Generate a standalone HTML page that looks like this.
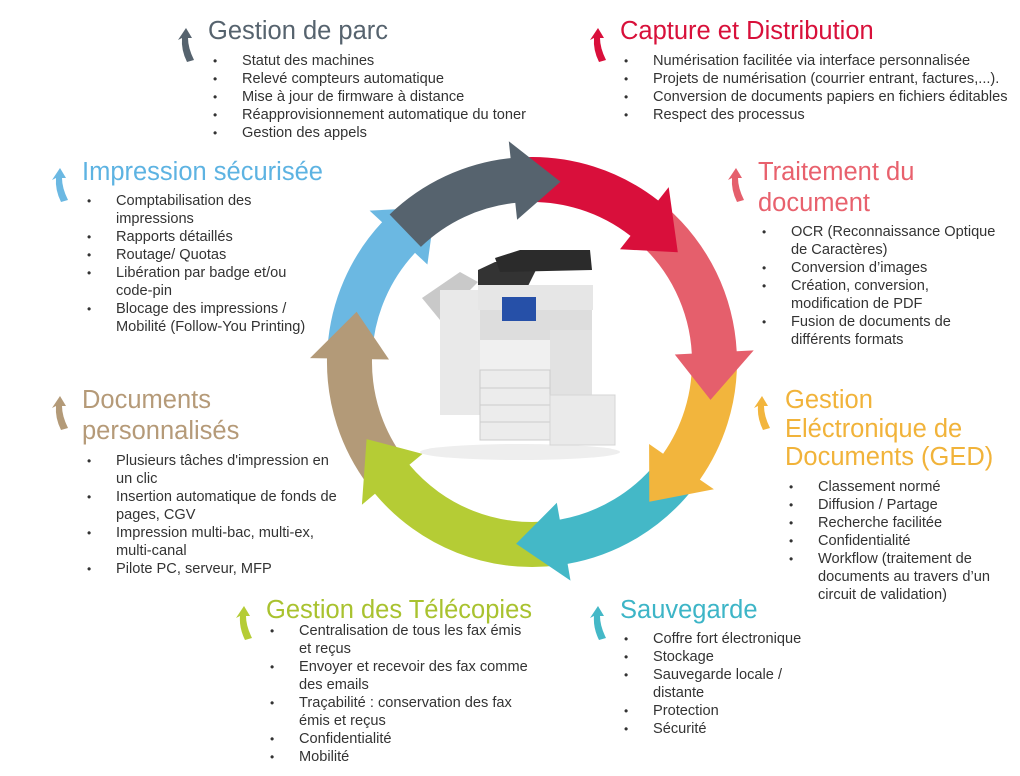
<!DOCTYPE html>
<html><head><meta charset="utf-8"><style>
body{margin:0;width:1020px;height:776px;background:#fff;position:relative;overflow:hidden;font-family:"Liberation Sans",Arial,sans-serif}
.b{position:absolute;white-space:nowrap}
.t{font-size:25.5px}
ul{list-style:none;margin:0;padding:0;font-size:14.6px;line-height:18px;color:#333}
li{position:relative}
li:before{content:"•";position:absolute;left:-29px;font-size:12px}
svg{position:absolute;left:0;top:0}
</style></head><body>
<svg width="1020" height="776" id="s">
<g id="ring"></g>
<g>
<ellipse cx="520" cy="452" rx="100" ry="8" fill="#eee"/>
<polygon points="422,298 460,272 478,282 440,320" fill="#c9c9c9"/>
<rect x="440" y="290" width="52" height="125" fill="#e9e9e9"/>
<polygon points="478,270 495,262 540,262 525,292 478,292" fill="#333"/>
<rect x="478" y="285" width="115" height="25" fill="#e6e6e6"/>
<polygon points="495,258 520,250 590,250 592,270 500,272" fill="#2b2b2b"/>
<rect x="480" y="310" width="112" height="30" fill="#ddd"/>
<rect x="502" y="297" width="34" height="24" fill="#2650a8"/>
<rect x="480" y="340" width="70" height="100" fill="#f0f0f0"/>
<rect x="550" y="330" width="42" height="85" fill="#e2e2e2"/>
<rect x="480" y="370" width="70" height="70" fill="#ececec" stroke="#ccc"/>
<line x1="480" y1="388" x2="550" y2="388" stroke="#ccc"/>
<line x1="480" y1="405" x2="550" y2="405" stroke="#ccc"/>
<line x1="480" y1="422" x2="550" y2="422" stroke="#ccc"/>
<rect x="550" y="395" width="65" height="50" fill="#eaeaea" stroke="#d5d5d5"/>
</g>
<g id="icons"></g>
</svg>

<div class="b" style="left:208px;top:16px"><div class="t" style="color:#56636e;line-height:30px">Gestion de parc</div>
<ul style="margin:6px 0 0 34px"><li>Statut des machines</li><li>Relevé compteurs automatique</li><li>Mise à jour de firmware à distance</li><li>Réapprovisionnement automatique du toner</li><li>Gestion des appels</li></ul></div>

<div class="b" style="left:620px;top:16px"><div class="t" style="color:#d8103a;line-height:30px">Capture et Distribution</div>
<ul style="margin:6px 0 0 33px"><li>Numérisation facilitée via interface personnalisée</li><li>Projets de numérisation (courrier entrant, factures,...).</li><li>Conversion de documents papiers en fichiers éditables</li><li>Respect des processus</li></ul></div>

<div class="b" style="left:82px;top:157px"><div class="t" style="color:#5db3e2;line-height:30px">Impression sécurisée</div>
<ul style="margin:5px 0 0 34px"><li>Comptabilisation des<br>impressions</li><li>Rapports détaillés</li><li>Routage/ Quotas</li><li>Libération par badge et/ou<br>code-pin</li><li>Blocage des impressions /<br>Mobilité (Follow-You Printing)</li></ul></div>

<div class="b" style="left:758px;top:157px"><div class="t" style="color:#e8616d;line-height:31px">Traitement du<br>document</div>
<ul style="margin:4px 0 0 33px"><li>OCR (Reconnaissance Optique<br>de Caractères)</li><li>Conversion d’images</li><li>Création, conversion,<br>modification de PDF</li><li>Fusion de documents de<br>différents formats</li></ul></div>

<div class="b" style="left:82px;top:385px"><div class="t" style="color:#b59a78;line-height:31px">Documents<br>personnalisés</div>
<ul style="margin:5px 0 0 34px"><li>Plusieurs tâches d'impression en<br>un clic</li><li>Insertion automatique de fonds de<br>pages, CGV</li><li>Impression multi-bac, multi-ex,<br>multi-canal</li><li>Pilote PC, serveur, MFP</li></ul></div>

<div class="b" style="left:785px;top:386px"><div class="t" style="color:#f1b33a;line-height:28.5px">Gestion<br>Eléctronique de<br>Documents (GED)</div>
<ul style="margin:6px 0 0 33px"><li>Classement normé</li><li>Diffusion / Partage</li><li>Recherche facilitée</li><li>Confidentialité</li><li>Workflow (traitement de<br>documents au travers d’un<br>circuit de validation)</li></ul></div>

<div class="b" style="left:266px;top:595px"><div class="t" style="color:#a9c22f;line-height:30px">Gestion des Télécopies</div>
<ul style="margin:-3px 0 0 33px"><li>Centralisation de tous les fax émis<br>et reçus</li><li>Envoyer et recevoir des fax comme<br>des emails</li><li>Traçabilité : conservation des fax<br>émis et reçus</li><li>Confidentialité</li><li>Mobilité</li></ul></div>

<div class="b" style="left:620px;top:595px"><div class="t" style="color:#3db5c7;line-height:30px">Sauvegarde</div>
<ul style="margin:5px 0 0 33px"><li>Coffre fort électronique</li><li>Stockage</li><li>Sauvegarde locale /<br>distante</li><li>Protection</li><li>Sécurité</li></ul></div>

<script>
var cx=532,cy=362,ri=160,ro=205,rm=182.5;
function P(r,a){a=a*Math.PI/180;return (cx+r*Math.cos(a)).toFixed(1)+","+(cy+r*Math.sin(a)).toFixed(1);}
function arrow(a0,tip,col){
 var hb=tip-15;
 var d="M"+P(ro,a0)+" A"+ro+","+ro+" 0 0 1 "+P(ro,hb)+" L"+P(ro+17,hb)+" L"+P(rm,tip)+" L"+P(ri-17,hb)+" L"+P(ri,hb)+" A"+ri+","+ri+" 0 0 0 "+P(ri,a0)+" Z";
 return '<path d="'+d+'" fill="'+col+'"/>';
}
var A=[[-81,"#56636e"],[-37,"#d90f3b"],[12,"#e55f6c"],[50,"#f2b53d"],[95,"#44b8c7"],[155,"#b5cc35"],[196,"#b39a78"],[238,"#6bb8e2"]];
var h="";
for(var i=A.length-1;i>=0;i--){var prev=A[(i+7)%8][0];if(prev>A[i][0])prev-=360;h+=arrow(prev-12,A[i][0],A[i][1]);}
document.getElementById("ring").innerHTML=h;
function icon(x,y,col){return '<path d="M'+x+','+(y+12)+' l8,-12 l6,10 l-4,0 q0,10 6,22 l-7,2 q-6,-12 -5,-24 z" fill="'+col+'"/>';}
var ic=[[178,28,"#56636e"],[590,28,"#d90f3b"],[52,168,"#6bb8e2"],[728,168,"#e55f6c"],[52,396,"#b39a78"],[754,396,"#f2b53d"],[236,606,"#b5cc35"],[590,606,"#44b8c7"]];
var g="";ic.forEach(function(c){g+=icon(c[0],c[1],c[2]);});
document.getElementById("icons").innerHTML=g;
</script>
</body></html>
